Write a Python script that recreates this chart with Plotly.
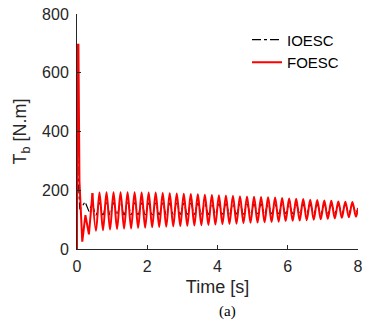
import plotly.graph_objects as go
import numpy as np

# ---------------- data ----------------
# start-up transient
foesc_t0 = [0.0, 0.012, 0.04, 0.07, 0.15, 0.24, 0.34, 0.44]
foesc_v0 = [0, 695, 695, 230, 25, 115, 50, 190]
ioesc_t0 = [0.0, 0.012, 0.03, 0.08, 0.14, 0.23, 0.34, 0.44]
ioesc_v0 = [0, 600, 250, 135, 144, 161, 128, 156]

# oscillation extrema (alternating peak / trough, every 0.1 s from 0.44 s)
foesc_peaks = [190, 192, 193, 193, 193, 193, 193, 192, 192, 192, 191,
               190, 189, 188, 187, 186, 185, 184, 183, 182, 181, 180, 179,
               178, 177, 176, 175, 174, 172, 171, 170, 168, 167, 165, 164, 162, 161, 160]
foesc_troughs = [62, 64, 66, 68, 69, 70, 72, 73, 74, 75,
                 76, 77, 78, 79, 80, 81, 82, 83, 84, 85, 86,
                 88, 89, 90, 91, 92, 93, 95, 96, 97, 98, 100, 101, 103, 104, 106, 108, 110]
ioesc_peaks = [156, 157, 157, 157, 157, 157, 157, 156, 156, 156, 156,
               156, 156, 155, 155, 155, 155, 155, 154, 154, 154, 154, 153,
               153, 153, 153, 152, 152, 152, 152, 151, 151, 151, 151, 150, 150, 150, 150]
ioesc_troughs = [116, 116, 116, 116, 116, 117, 117, 117, 117, 117,
                 117, 118, 118, 118, 118, 118, 118, 119, 119, 119, 119,
                 119, 120, 120, 120, 120, 120, 121, 121, 121, 121, 122, 122, 122, 123, 123, 123, 124]
end_t = 8.0
foesc_end = 140
ioesc_end = 138

x_ticks = [0, 2, 4, 6, 8]
y_ticks = [0, 200, 400, 600, 800]

# ---------------- build series ----------------
n = len(foesc_peaks)
t_ext = np.round(0.44 + 0.1 * np.arange(2 * n), 2)

def interleave(p, q):
    out = []
    for a, b in zip(p, q):
        out += [a, b]
    return out

f_osc = interleave(foesc_peaks, foesc_troughs) + [foesc_end]
i_osc = interleave(ioesc_peaks, ioesc_troughs) + [ioesc_end]
t_osc = list(t_ext) + [end_t]

red = "#ff0000"
FONT = "Liberation Sans"
fig = go.Figure()

fig.add_trace(go.Scatter(x=ioesc_t0, y=ioesc_v0, mode="lines", legendgroup="i", showlegend=False,
                         line=dict(color="black", width=1.2, dash="dashdot")))
fig.add_trace(go.Scatter(x=t_osc, y=i_osc, mode="lines", name="IOESC", legendgroup="i",
                         line=dict(color="black", width=1.2, dash="dashdot", shape="spline", smoothing=1.0)))
fig.add_trace(go.Scatter(x=foesc_t0, y=foesc_v0, mode="lines", legendgroup="f", showlegend=False,
                         line=dict(color=red, width=2)))
fig.add_trace(go.Scatter(x=t_osc, y=f_osc, mode="lines", name="FOESC", legendgroup="f",
                         line=dict(color=red, width=2, shape="spline", smoothing=1.0)))

axis_common = dict(showgrid=False, zeroline=False, showline=True, linecolor="#262626", linewidth=1,
                   ticks="inside", ticklen=4, tickcolor="#262626", mirror=False,
                   tickfont=dict(family=FONT, size=16, color="#262626"))

fig.update_layout(
    width=368, height=323,
    margin=dict(l=77, r=5, t=14, b=74),
    paper_bgcolor="white", plot_bgcolor="white",
    xaxis=dict(range=[0, 8], tickvals=x_ticks, ticklabelstandoff=3,
               title=dict(text="Time [s]", font=dict(family=FONT, size=18, color="#262626"),
                          standoff=6),
               **axis_common),
    yaxis=dict(range=[0, 800], tickvals=y_ticks, ticklabelstandoff=4,
               title=dict(text="T<sub>b</sub> [N.m]", font=dict(family=FONT, size=18, color="#262626"),
                          standoff=10),
               **axis_common),
    legend=dict(x=0.605, y=0.96, xanchor="left", yanchor="top", bgcolor="rgba(0,0,0,0)",
                font=dict(family=FONT, size=15, color="black"),
                tracegroupgap=0, traceorder="normal"),
    showlegend=True,
)

fig.add_annotation(text="(a)", xref="paper", yref="paper", x=(230 - 77) / 286, y=-(311 - 249) / 235,
                   showarrow=False, xanchor="center", yanchor="middle",
                   font=dict(family="Liberation Serif", size=15, color="black"))

fig.write_html("out.html")
